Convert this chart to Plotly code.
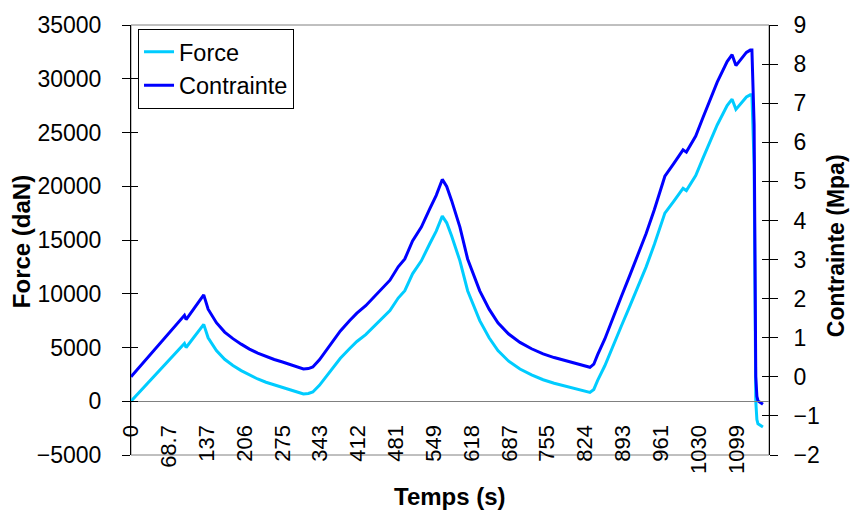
import plotly.graph_objects as go

# Time (s)
temps = [0, 20, 40, 60, 80, 97, 100, 115, 132, 140, 155, 170, 185, 200, 215, 230, 245, 260, 275, 290,
         306, 313, 322, 330, 342, 354, 366, 380, 397, 410, 426, 437, 451, 470, 485, 497, 511, 527, 542, 554,
         565, 573, 582, 597, 611, 622, 633, 650, 666, 685, 706, 727, 748, 768, 788, 815, 833, 840, 847, 860,
         875, 890, 905, 920, 935, 950, 962, 969, 985, 1002, 1008, 1015, 1025, 1038, 1050, 1064, 1082, 1091, 1098, 1109,
         1117, 1124, 1127, 1131, 1134, 1136, 1138, 1147]

# Force (daN)
force = [0, 1110, 2210, 3320, 4430, 5370, 5000, 6000, 7150, 5900, 4720, 3900, 3330, 2850, 2420, 2070, 1770, 1510, 1290, 1050,
         790, 680, 720, 860, 1480, 2250, 3060, 4000, 4910, 5560, 6200, 6760, 7500, 8430, 9600, 10280, 11850, 13060, 14630, 15830,
         17220, 16600, 15370, 13060, 10280, 8800, 7500, 5900, 4720, 3750, 3000, 2450, 2000, 1680, 1400, 1050, 830, 1100, 1940, 3300,
         5200, 7000, 8800, 10600, 12500, 14600, 16500, 17500, 18600, 19800, 19600, 20200, 21000, 22600, 24000, 25700, 27500, 28100, 27150, 27870,
         28300, 28500, 28500, 22000, 0, -1700, -2100, -2400]

# Contrainte (Mpa)
contrainte = [0.0, 0.326, 0.648, 0.974, 1.299, 1.575, 1.466, 1.760, 2.097, 1.730, 1.384, 1.144, 0.977, 0.836, 0.710, 0.607, 0.519, 0.443, 0.378, 0.308,
              0.232, 0.199, 0.211, 0.252, 0.434, 0.660, 0.897, 1.173, 1.440, 1.630, 1.818, 1.982, 2.199, 2.472, 2.815, 3.015, 3.475, 3.830, 4.290, 4.642,
              5.050, 4.868, 4.507, 3.830, 3.015, 2.581, 2.199, 1.730, 1.384, 1.100, 0.880, 0.718, 0.587, 0.493, 0.411, 0.308, 0.243, 0.323, 0.569, 0.968,
              1.525, 2.053, 2.581, 3.109, 3.666, 4.282, 4.839, 5.132, 5.455, 5.806, 5.748, 5.924, 6.158, 6.628, 7.038, 7.537, 8.065, 8.240, 7.962, 8.173,
              8.299, 8.358, 8.358, 6.452, 0.0, -0.499, -0.616, -0.704]

x_tick_vals = [0, 68.7, 137, 206, 275, 343, 412, 481, 549, 618, 687, 755, 824, 893, 961, 1030, 1099]
x_tick_text = ["0", "68.7", "137", "206", "275", "343", "412", "481", "549", "618", "687", "755", "824", "893", "961", "1030", "1099"]

FONT = "Liberation Sans, Arial, sans-serif"

fig = go.Figure()
fig.add_trace(go.Scatter(x=temps, y=force, name="Force", mode="lines",
                         line=dict(color="#00CCFF", width=3), yaxis="y"))
fig.add_trace(go.Scatter(x=temps, y=contrainte, name="Contrainte", mode="lines",
                         line=dict(color="#0000FF", width=3), yaxis="y2"))
# empty helper traces so the inner-tick axes are drawn (cross tick marks)
fig.add_trace(go.Scatter(x=[], y=[], yaxis="y3", showlegend=False, hoverinfo="skip"))
fig.add_trace(go.Scatter(x=[], y=[], yaxis="y4", showlegend=False, hoverinfo="skip"))

ytick_font = dict(family=FONT, size=23, color="black")
xtick_font = dict(family=FONT, size=22, color="black")

fig.update_layout(
    width=850, height=512,
    margin=dict(l=131, r=81, t=23, b=57),
    paper_bgcolor="white", plot_bgcolor="white",
    font=dict(family=FONT, size=22, color="black"),
    showlegend=True,
    legend=dict(x=0.011, y=0.991, xanchor="left", yanchor="top",
                bgcolor="white", bordercolor="black", borderwidth=1,
                font=dict(family=FONT, size=23.5, color="black")),
    xaxis=dict(range=[0, 1158], tickvals=x_tick_vals, ticktext=x_tick_text,
               tickangle=-90, ticks="", showgrid=False, zeroline=False,
               showline=True, linecolor="#808080", linewidth=1,
               anchor="free", position=0.125, ticklabelstandoff=14,
               tickfont=xtick_font),
    yaxis=dict(range=[-5000, 35000], dtick=5000, tick0=0, tickformat="d",
               showgrid=False, zeroline=False,
               showline=True, linecolor="black", linewidth=1,
               ticks="outside", ticklen=8, tickcolor="black", ticklabelstandoff=16,
               tickfont=ytick_font),
    yaxis2=dict(range=[-2, 9], dtick=1, tick0=0, overlaying="y", side="right",
                showgrid=False, zeroline=False, showline=True, linecolor="black", linewidth=1,
                ticks="outside", ticklen=8, tickcolor="black", ticklabelstandoff=11,
                tickfont=ytick_font),
    yaxis3=dict(range=[-5000, 35000], dtick=5000, tick0=0, overlaying="y", side="left",
                showgrid=False, zeroline=False, showline=False, showticklabels=False,
                ticks="inside", ticklen=7, tickcolor="black"),
    yaxis4=dict(range=[-2, 9], dtick=1, tick0=0, overlaying="y", side="right",
                showgrid=False, zeroline=False, showline=False, showticklabels=False,
                ticks="inside", ticklen=7, tickcolor="black"),
    shapes=[dict(type="rect", xref="x domain", yref="y domain", x0=0, x1=1, y0=0, y1=1,
                 line=dict(color="#808080", width=1), layer="below")],
    annotations=[
        dict(text="<b>Force (daN)</b>", xref="paper", yref="paper", x=-0.1724, y=0.495,
             textangle=-90, showarrow=False, font=dict(family=FONT, size=24, color="black"),
             xanchor="center", yanchor="middle"),
        dict(text="<b>Contrainte (Mpa)</b>", xref="paper", yref="paper", x=1.105, y=0.488,
             textangle=-90, showarrow=False, font=dict(family=FONT, size=23, color="black"),
             xanchor="center", yanchor="middle"),
        dict(text="<b>Temps (s)</b>", xref="paper", yref="paper", x=0.5, y=-0.097,
             showarrow=False, font=dict(family=FONT, size=24, color="black"),
             xanchor="center", yanchor="middle"),
    ],
)

fig.write_html("out.html", config={"displayModeBar": False},
               post_script="document.body.style.margin='0';document.body.style.padding='0';")
